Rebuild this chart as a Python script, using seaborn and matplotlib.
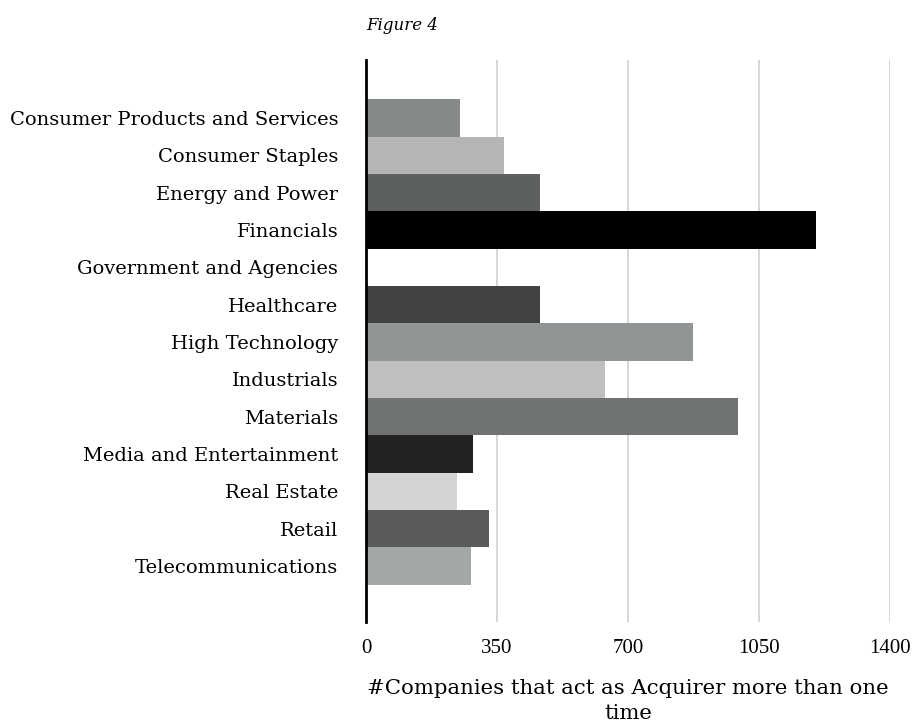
import matplotlib
matplotlib.use("Agg")
import matplotlib.pyplot as plt
import seaborn as sns
import pandas as pd

categories = [
    "Consumer Products and Services",
    "Consumer Staples",
    "Energy and Power",
    "Financials",
    "Government and Agencies",
    "Healthcare",
    "High Technology",
    "Industrials",
    "Materials",
    "Media and Entertainment",
    "Real Estate",
    "Retail",
    "Telecommunications",
]
acquirers = [251, 369, 465, 1202, 0, 465, 874, 638, 994, 286, 243, 329, 281]
bar_colors = [
    "#858a87", "#b5b5b5", "#5c605e", "#000000", "#ffffff", "#424242",
    "#919694", "#bfbfbf", "#6f7371", "#232323", "#d4d4d4", "#5b5b5b", "#a3a8a5",
]
x_ticks = [0, 350, 700, 1050, 1400]

sns.set_theme(style="white")
plt.rcParams["font.family"] = ["DejaVu Serif"]
plt.rcParams["text.color"] = "black"
plt.rcParams["axes.labelcolor"] = "black"
plt.rcParams["xtick.color"] = "black"
plt.rcParams["ytick.color"] = "black"

df = pd.DataFrame({"sector": categories, "count": acquirers})

fig = plt.figure(figsize=(9.15, 7.27), dpi=100)
ax = fig.add_axes([0.400, 0.1444, 0.5727, 0.7731])

sns.barplot(data=df, x="count", y="sector", hue="sector", palette=bar_colors,
            width=1.0, legend=False, orient="h", ax=ax, saturation=1,
            linewidth=0)

ax.set_xlim(0, 1400)
ax.set_ylim(len(categories) - 0.5 + 1.0, -1.55)
ax.set_xticks(x_ticks)
ax.set_xticklabels([str(t) for t in x_ticks], fontsize=15,
                   family="Liberation Serif")
ax.tick_params(axis="y", labelsize=14, length=0, pad=20)
ax.tick_params(axis="x", length=0, pad=12)
ax.xaxis.grid(True, color="#d0d0d0", linewidth=1.2)
ax.set_axisbelow(True)
for s in ["top", "right", "bottom"]:
    ax.spines[s].set_visible(False)
ax.spines["left"].set_color("black")
ax.spines["left"].set_linewidth(2)
ax.spines["left"].set_zorder(5)
ax.set_ylabel("")
ax.set_xlabel("#Companies that act as Acquirer more than one\ntime",
              fontsize=15.3, labelpad=15, linespacing=1.4)

fig.text(366 / 915, 1 - 26 / 727, "Figure 4", fontsize=12, style="italic",
         ha="left", va="center")

fig.savefig("out.png", dpi=100)
